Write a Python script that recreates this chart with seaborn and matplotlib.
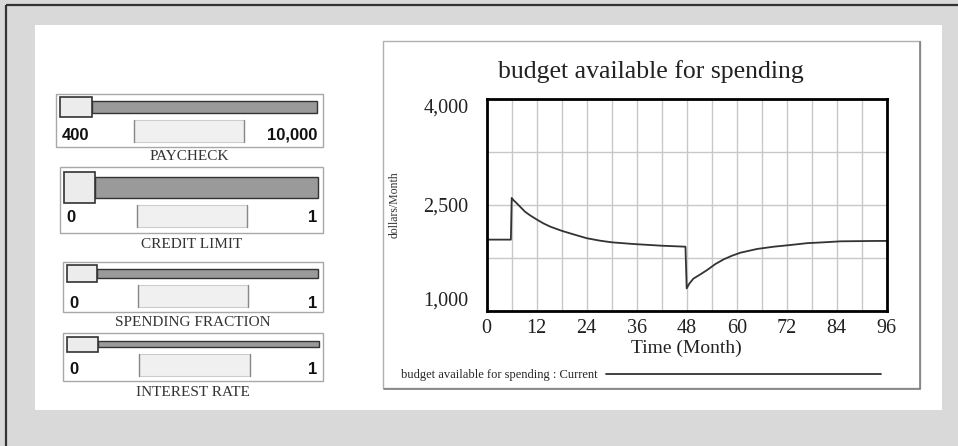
import matplotlib
matplotlib.use('Agg')
import matplotlib.pyplot as plt
from matplotlib.patches import Rectangle
from matplotlib.ticker import FixedLocator
import pandas as pd
import seaborn as sns

# values
months = [0, 5.8, 6, 6.4, 7.2, 9.2, 10.4, 12, 13.6, 15.2, 18, 20.8, 24, 27.2, 30, 35.2, 42, 47.7,
          48, 48.6, 49.6, 51.3, 52.9, 54.9, 56.9, 58.9, 60.9, 64.9, 68.9, 72.9, 76.9, 80.9, 84.9,
          92.9, 96]
budget = [2010, 2010, 2600, 2570, 2525, 2405, 2354, 2295, 2240, 2195, 2135, 2085, 2030, 1995,
          1972, 1948, 1924, 1910,
          1320, 1385, 1458, 1519, 1580, 1665, 1732, 1783, 1825, 1878, 1910, 1934, 1960, 1972, 1986,
          1991, 1992]
x_ticks = [0, 12, 24, 36, 48, 60, 72, 84, 96]
y_ticks = [1000, 2500, 4000]
y_tick_labels = ['1,000', '2,500', '4,000']
series_name = 'budget available for spending : Current'

slider_names = ['PAYCHECK', 'CREDIT LIMIT', 'SPENDING FRACTION', 'INTEREST RATE']
slider_min = ['400', '0', '0', '0']
slider_max = ['10,000', '1', '1', '1']

sns.set_style('white')
plt.rcParams['font.family'] = ['Liberation Serif', 'DejaVu Serif']

W, H = 958, 446
fig = plt.figure(figsize=(W / 100, H / 100), dpi=100)
fig.patch.set_facecolor('#d9d9d9')

# pixel-space background layer for the panel and the sliders
bg = fig.add_axes([0, 0, 1, 1], zorder=0)
bg.set_xlim(0, W)
bg.set_ylim(H, 0)
bg.axis('off')


def rect(x0, y0, x1, y1, **kw):
    bg.add_patch(Rectangle((x0, y0), x1 - x0, y1 - y0, **kw))


bg.plot([6, 6], [5, H], color='#333333', lw=1.6, solid_capstyle='butt')
bg.plot([6, W], [5, 5], color='#333333', lw=1.6, solid_capstyle='butt')
rect(35, 25, 942, 410, facecolor='white', edgecolor='none')

# chart frame with a soft shadow
rect(383, 41, 920, 388, facecolor='white', edgecolor='#b0b0b0', lw=1.0)
bg.plot([920, 920], [42, 389], color='#808080', lw=1.2)
bg.plot([384, 920], [388.5, 388.5], color='#808080', lw=1.2)

# slider layout (pixels)
boxes = [(56, 94, 323, 147), (60, 167, 323, 233), (63, 262, 323, 312), (63, 333, 323, 381)]
knobs = [(60, 97, 92, 117), (64, 172, 95, 203), (67, 265, 97, 282), (67, 337, 98, 352)]
tracks = [(92, 101, 317, 113), (95, 177, 318, 198), (97, 269, 318, 278), (98, 341, 319, 347)]
valboxes = [(134, 120, 244, 142), (137, 205, 247, 227), (138, 285, 248, 307), (139, 354, 250, 376)]
label_y = [135, 218, 303, 369]
name_y = [157, 244, 322, 392]

for i, name in enumerate(slider_names):
    rect(*boxes[i], facecolor='white', edgecolor='#a8a8a8', lw=1.0)
    rect(*tracks[i], facecolor='#9a9a9a', edgecolor='#333333', lw=1.0)
    rect(*knobs[i], facecolor='#ececec', edgecolor='#333333', lw=1.2)
    vx0, vy0, vx1, vy1 = valboxes[i]
    rect(vx0, vy0, vx1, vy1, facecolor='#f0f0f0', edgecolor='#cccccc', lw=0.8)
    bg.plot([vx0, vx0], [vy0, vy1], color='#888888', lw=1.0)
    bg.plot([vx1, vx1], [vy0, vy1], color='#888888', lw=1.0)
    bg.text(boxes[i][0] + 6, label_y[i], slider_min[i], ha='left', va='center',
            fontsize=12, fontweight='bold', family=['Liberation Sans', 'DejaVu Sans'], color='#111111')
    bg.text(boxes[i][2] - 6, label_y[i], slider_max[i], ha='right', va='center',
            fontsize=12, fontweight='bold', family=['Liberation Sans', 'DejaVu Sans'], color='#111111')
    bg.text((boxes[i][0] + boxes[i][2]) / 2, name_y[i], name, ha='center', va='center',
            fontsize=11, color='#333333')

bg.text(651, 72, 'budget available for spending', ha='center', va='center',
        fontsize=18.5, color='#222222')

# main chart
ax_l, ax_t, ax_r, ax_b = 486.7, 99, 886.7, 311
ax = fig.add_axes([ax_l / W, 1 - ax_b / H, (ax_r - ax_l) / W, (ax_b - ax_t) / H], zorder=2)
ax.set_facecolor('white')

df = pd.DataFrame({'month': months, 'budget': budget})
sns.lineplot(data=df, x='month', y='budget', ax=ax, estimator=None, sort=False,
             color='#333333', linewidth=1.3, label=series_name)

ax.set_xlim(0, 96)
ax.set_ylim(1000, 4000)
ax.set_xticks(x_ticks)
ax.set_xticklabels([str(t) for t in x_ticks])
ax.set_yticks(y_ticks)
ax.set_yticklabels(y_tick_labels)
ax.xaxis.set_minor_locator(FixedLocator([6 + 12 * k for k in range(8)]))
ax.yaxis.set_minor_locator(FixedLocator([1750, 3250]))
ax.grid(True, which='both', color='#c8c8c8', lw=1.0)
ax.set_axisbelow(True)
ax.tick_params(which='both', length=0)
ax.tick_params(axis='y', pad=13, labelsize=14.5, labelcolor='#222222')
ax.tick_params(axis='x', pad=6, labelsize=14.5, labelcolor='#222222')
for lbl in ax.get_yticklabels():
    if lbl.get_text() == '4,000':
        lbl.set_va('top')
    elif lbl.get_text() == '1,000':
        lbl.set_va('bottom')
for sp in ax.spines.values():
    sp.set_color('black')
    sp.set_linewidth(2)

ax.set_xlabel('Time (Month)', fontsize=14, color='#222222', labelpad=1)
ax.set_ylabel('dollars/Month', fontsize=8.5, color='#333333')
ax.yaxis.set_label_coords((395 - ax_l) / (ax_r - ax_l), 0.5)
ax.yaxis.label.set_va('center')

ax.legend(loc='center left', bbox_to_anchor=(401 / W, 1 - 375 / H), bbox_transform=fig.transFigure,
          markerfirst=False, frameon=False, fontsize=9, handlelength=22, handletextpad=0.7,
          borderpad=0, borderaxespad=0)

fig.savefig('out.png', dpi=100)
